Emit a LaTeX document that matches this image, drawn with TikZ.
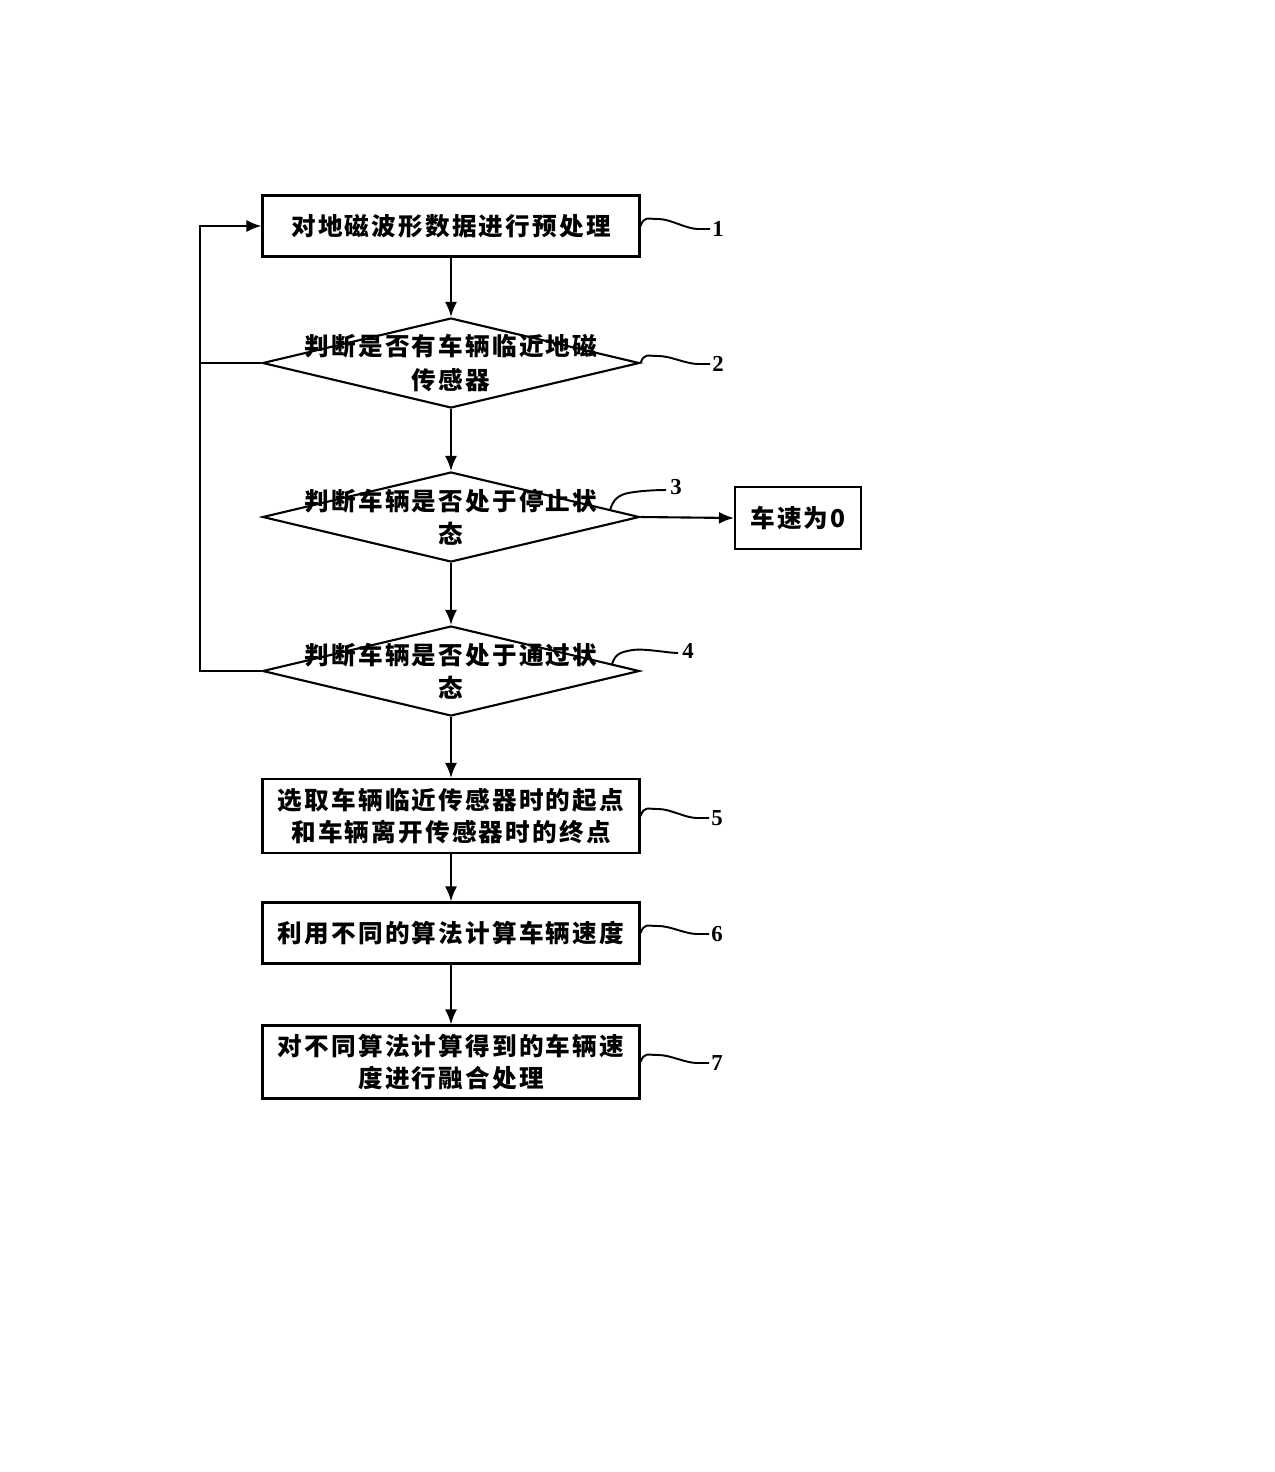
\documentclass[tikz,border=0pt]{standalone}
\usepackage{fontspec}
\usetikzlibrary{arrows.meta,shapes.geometric,calc}
\newfontfamily\cjk{Noto Sans CJK SC}[LetterSpace=9]
\newfontfamily\numfont{Liberation Serif}

\tikzset{
  box/.style={draw, line width=1.2pt, minimum width=7.54cm, inner sep=0pt,
    font=\cjk\bfseries\fontsize{14pt}{18pt}\selectfont, align=center},
  decision/.style={draw, diamond, line width=1.2pt, minimum width=7.54cm,
    minimum height=1.8cm, inner sep=0pt},
  txt/.style={font=\cjk\bfseries\fontsize{14pt}{19pt}\selectfont, align=center},
  num/.style={font=\numfont\bfseries\fontsize{13pt}{15pt}\selectfont, inner sep=1pt},
  arr/.style={line width=1.2pt, -{Latex[length=3mm,width=2.4mm]}},
  wave/.style={line width=1.1pt}
}

\begin{document}
\begin{tikzpicture}
  [x=0.02cm, y=-0.02cm]
  \useasboundingbox (0,0) rectangle (1275,1472);

  \node[box, minimum height=1.22cm] (b1) at (451,226) {对地磁波形数据进行预处理};
  \node[decision] (d2) at (451,363) {};
  \node[txt] (t2) at (451,363) {判断是否有车辆临近地磁\\传感器};
  \node[decision] (d3) at (451,517) {};
  \node[txt] (t3) at (451,517) {判断车辆是否处于停止状\\态};
  \node[decision] (d4) at (451,671) {};
  \node[txt] (t4) at (451,671) {判断车辆是否处于通过状\\态};
  \node[box, minimum height=1.48cm] (b5) at (451,816) {选取车辆临近传感器时的起点\\和车辆离开传感器时的终点};
  \node[box, minimum height=1.22cm] (b6) at (451,933) {利用不同的算法计算车辆速度};
  \node[box, minimum height=1.46cm] (b7) at (451,1062) {对不同算法计算得到的车辆速\\度进行融合处理};
  \node[box, minimum width=2.52cm, minimum height=1.24cm] (b0) at (798,518) {车速为0};

  \node[num] (n1) at (718,229) {1};
  \node[num] (n2) at (718,364) {2};
  \node[num] (n3) at (676,487) {3};
  \node[num] (n4) at (688,651) {4};
  \node[num] (n5) at (717,818) {5};
  \node[num] (n6) at (717,934) {6};
  \node[num] (n7) at (717,1063) {7};

  \foreach \from/\to in {b1/d2,d2/d3,d3/d4,d4/b5,b5/b6,b6/b7}
  \draw[arr] (\from.south) -- (\to.north);
  \draw[arr] (d3.east) -- (b0.west);

  % back to the start
  \coordinate (back) at (200,226);
  \draw[arr] (d4.west) -| (back) -- (b1.west);
  \draw[line width=1.2pt] (d2.west) -- (d2.west -| back);

  % leaders to the numbers
  \foreach \from/\to in {b1.east/n1,d2.east/n2,b5.east/n5,b6.east/n6,b7.east/n7}
  \draw[wave] (\from) .. controls +(4,-10) and +(-12,0) .. ++(18,-7)
    .. controls +(12,0) and +(-12,0) .. ($(\to.west)+(-12,0)$) -- (\to.west);
  \coordinate (s3) at ($(d3.north)!0.84!(d3.east)$);
  \coordinate (s4) at ($(d4.north)!0.85!(d4.east)$);
  \draw[wave] (s3) .. controls +(3,-10) and +(-12,2) .. ++(20,-17)
    .. controls +(12,-2) and +(-10,0) .. ($(n3.west)+(-2,3)$);
  \draw[wave] (s4) .. controls +(3,-10) and +(-12,2) .. ++(20,-14)
    .. controls +(12,-2) and +(-10,0) .. ($(n4.west)+(-2,2)$);
\end{tikzpicture}
\end{document}
